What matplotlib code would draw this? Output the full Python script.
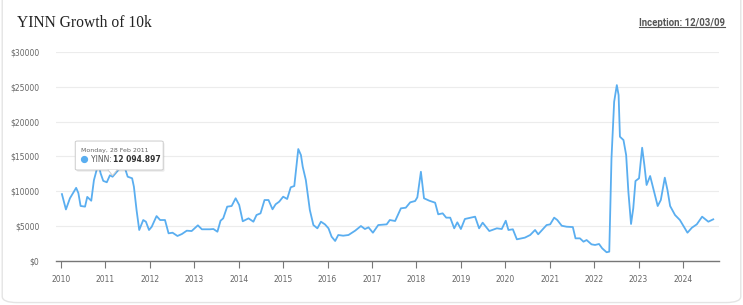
import numpy as np
import matplotlib
matplotlib.use("Agg")
import matplotlib.pyplot as plt
from matplotlib.patches import FancyBboxPatch, Polygon

# decimal year, value of $10k invested
years = [2010.02, 2010.11, 2010.20, 2010.34, 2010.39, 2010.44, 2010.54, 2010.59, 2010.68, 2010.74,
         2010.84, 2010.89, 2010.95, 2011.03, 2011.10, 2011.16, 2011.29, 2011.39, 2011.44, 2011.50,
         2011.60, 2011.64, 2011.70, 2011.76, 2011.85, 2011.91, 2011.98, 2012.04, 2012.15, 2012.23,
         2012.34, 2012.42, 2012.51, 2012.62, 2012.72, 2012.83, 2012.94, 2013.08, 2013.17, 2013.35,
         2013.43, 2013.52, 2013.59, 2013.65, 2013.74, 2013.84, 2013.93, 2014.01, 2014.09, 2014.22,
         2014.33, 2014.40, 2014.49, 2014.58, 2014.67, 2014.76, 2014.83, 2014.91, 2015.00, 2015.09,
         2015.17, 2015.25, 2015.34, 2015.40, 2015.44, 2015.51, 2015.60, 2015.68, 2015.77, 2015.85,
         2015.94, 2016.02, 2016.09, 2016.17, 2016.24, 2016.35, 2016.47, 2016.62, 2016.75, 2016.84,
         2016.92, 2017.02, 2017.14, 2017.33, 2017.40, 2017.52, 2017.65, 2017.76, 2017.86, 2017.97,
         2018.02, 2018.10, 2018.17, 2018.29, 2018.42, 2018.49, 2018.59, 2018.67, 2018.76, 2018.85,
         2018.92, 2019.00, 2019.09, 2019.32, 2019.41, 2019.49, 2019.64, 2019.81, 2019.92, 2020.01,
         2020.07, 2020.17, 2020.26, 2020.44, 2020.56, 2020.67, 2020.74, 2020.83, 2020.93, 2021.01,
         2021.10, 2021.17, 2021.27, 2021.38, 2021.52, 2021.58, 2021.68, 2021.76, 2021.83, 2021.94,
         2022.02, 2022.11, 2022.18, 2022.28, 2022.34, 2022.39, 2022.45, 2022.51, 2022.55, 2022.58,
         2022.66, 2022.72, 2022.77, 2022.83, 2022.88, 2022.93, 2023.01, 2023.08, 2023.13, 2023.18,
         2023.26, 2023.33, 2023.43, 2023.50, 2023.59, 2023.65, 2023.71, 2023.82, 2023.93, 2024.02,
         2024.10, 2024.20, 2024.31, 2024.43, 2024.57, 2024.68]
values = [9600, 7400, 9000, 10500, 9750, 7900, 7800, 9200, 8650, 11600,
          14000, 12600, 11500, 11300, 12300, 12095, 13060, 14000, 13300, 12100,
          11870, 10660, 7300, 4450, 5880, 5640, 4450, 4900, 6450, 5880,
          5880, 3970, 4060, 3590, 3870, 4350, 4300, 5120, 4550, 4550,
          4590, 4200, 5780, 6120, 7800, 7890, 9000, 8040, 5700, 6120,
          5640, 6600, 6840, 8750, 8750, 7420, 8140, 8510, 9230, 8900,
          10580, 10760, 16070, 15200, 13530, 11620, 7320, 5160, 4690, 5640,
          5260, 4690, 3490, 2870, 3730, 3630, 3730, 4350, 5020, 4590,
          4830, 4060, 5160, 5260, 5880, 5740, 7560, 7650, 8420, 8610,
          9140, 12810, 9000, 8650, 8370, 6700, 6840, 6220, 6220, 4690,
          5550, 4590, 6030, 6360, 4690, 5500, 4300, 4690, 4590, 5780,
          4450, 4550, 3110, 3350, 3730, 4450, 3830, 4450, 5160, 5260,
          6220, 5880, 5060, 4920, 4870, 3250, 3250, 2770, 3010, 2390,
          2300, 2440, 1820, 1250, 1340, 14740, 22860, 25250, 23820, 17840,
          17360, 15210, 9950, 5310, 7560, 11480, 11870, 16260, 13780, 10910,
          12200, 10430, 7890, 8750, 11960, 10190, 7890, 6600, 5880, 4920,
          4060, 4780, 5260, 6360, 5640, 5980]

y_ticks = [0, 5000, 10000, 15000, 20000, 25000, 30000]
x_ticks = list(range(2010, 2025))

tip_date = "Monday, 28 Feb 2011"
tip_year = 2011.16
tip_value = 12094.897

line_color = "#5aaef0"

fig = plt.figure(figsize=(7.43, 3.05), dpi=100)
fig.patch.set_facecolor("white")

card = FancyBboxPatch((0.003, 0.008), 0.994, 1.2, boxstyle="round,pad=0,rounding_size=0.02",
                      transform=fig.transFigure, facecolor="white", edgecolor="#e4e4e4", lw=1,
                      zorder=-5)
fig.patches.append(card)

fig.text(0.023, 0.91, "YINN Growth of 10k", family="Liberation Serif", fontsize=11.2,
         color="#222222", va="baseline")
t = fig.text(0.976, 0.915, "Inception: 12/03/09", family="Roboto", weight="bold",
             fontsize=6.9, color="#555555", ha="right", va="baseline")
fig.canvas.draw()
bb = t.get_window_extent().transformed(fig.transFigure.inverted())
fig.add_artist(plt.Line2D([bb.x0, bb.x1], [bb.y0 + 0.003, bb.y0 + 0.003],
                          transform=fig.transFigure, color="#555555", lw=0.8))

ax = fig.add_axes([0.0754, 0.1443, 0.8923, 0.6852])
ax.patch.set_alpha(0)
ax.plot(years, values, color=line_color, lw=1.3, solid_joinstyle="round", zorder=3)
ax.set_xlim(2009.887, 2024.81)
ax.set_ylim(0, 30000)
ax.set_yticks(y_ticks)
ax.set_yticklabels(["$" + str(v) for v in y_ticks])
ax.set_xticks(x_ticks)
ax.set_xticklabels([str(v) for v in x_ticks])
ax.grid(axis="y", color="#ececec", lw=0.8)
ax.set_axisbelow(True)
for s in ["top", "right", "left"]:
    ax.spines[s].set_visible(False)
ax.spines["bottom"].set_color("#777777")
ax.spines["bottom"].set_linewidth(1)
ax.tick_params(axis="y", length=0, pad=12, labelsize=5.5, labelcolor="#666666")
ax.tick_params(axis="x", length=5, width=0.8, color="#777777", pad=5,
               labelsize=5.5, labelcolor="#666666")

# tooltip
bx0, by0 = 2010.32, 13060
bw, bh = 1.98, 4160
shadow = FancyBboxPatch((bx0 + 0.03, by0 - 250), bw, bh, boxstyle="round,pad=0,rounding_size=0.05",
                        facecolor="#000000", alpha=0.08, edgecolor="none", zorder=5,
                        mutation_aspect=3000)
ax.add_patch(shadow)
box = FancyBboxPatch((bx0, by0), bw, bh, boxstyle="round,pad=0,rounding_size=0.05",
                     facecolor="white", edgecolor="#cccccc", lw=0.7, zorder=6,
                     mutation_aspect=3000)
ax.add_patch(box)
ax.add_patch(Polygon([[tip_year - 0.1, by0 + 10], [tip_year + 0.1, by0 + 10], [tip_year, by0 - 800]],
                     closed=True, facecolor="white", edgecolor="none", zorder=7))
ax.plot([tip_year - 0.1, tip_year, tip_year + 0.1], [by0, by0 - 800, by0],
        color="#cccccc", lw=0.7, zorder=7)
ax.text(bx0 + 0.12, by0 + 2870, tip_date, fontsize=4.5, color="#666666", zorder=8, va="center")
ax.plot([bx0 + 0.2], [by0 + 1550], "o", ms=4.2, color=line_color, zorder=8)
ax.text(bx0 + 0.36, by0 + 1550, "YINN: ", fontsize=5.5, color="#555555", zorder=8, va="center")
ax.text(bx0 + 0.84, by0 + 1550, "{:,.3f}".format(tip_value).replace(",", " "),
        fontsize=5.5, weight="bold", color="#333333", zorder=8, va="center")

fig.savefig("out.png", dpi=100)
